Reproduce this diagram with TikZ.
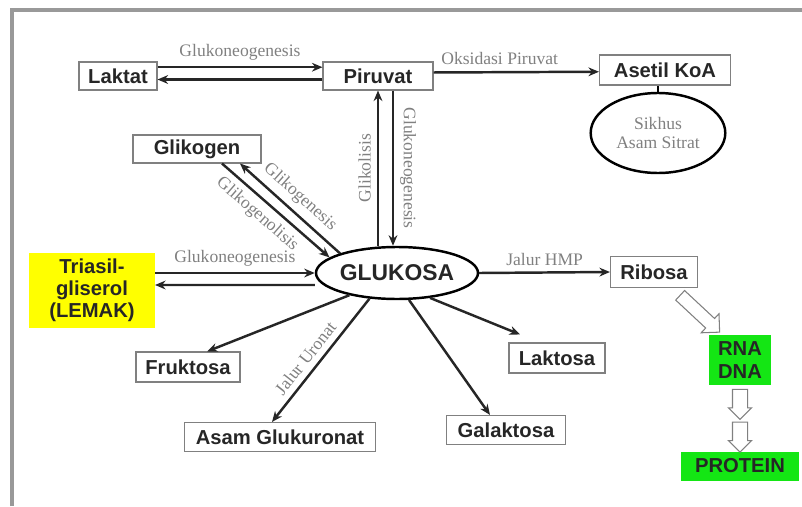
\documentclass[tikz,border=0pt]{standalone}
\usepackage{fontspec}
\setmainfont{Liberation Serif}
\setsansfont{Liberation Sans}
\usepackage{xcolor}
\usepackage{tikz}
\usetikzlibrary{arrows.meta,calc,shapes.geometric,shapes.arrows}
\definecolor{lemak}{RGB}{255,255,0}
\definecolor{hijau}{RGB}{20,230,20}

\begin{document}
\begin{tikzpicture}[
  box/.style={draw=gray, line width=0.6pt, inner sep=0pt, text=black!85,
    font=\sffamily\bfseries\fontsize{11.5}{12.5}\selectfont, align=center},
  arr/.style={line width=1.4pt, black!85, -{Stealth[length=6pt,width=5pt]}},
  lbl/.style={text=gray, font=\fontsize{10}{11}\selectfont},
  hollow/.style={single arrow, draw=gray, fill=white, line width=0.6pt, inner xsep=0pt}
]
\useasboundingbox (0,0) rectangle (16.04,10.12);

% Frame
\draw[gray!80, line width=1.8pt] (0.24,0) -- (0.24,9.92) -- (16.04,9.92);

% Boxes
\node[box, minimum width=1.56cm, minimum height=0.56cm] (laktat) at (2.36,8.6) {Laktat};
\node[box, minimum width=2.2cm, minimum height=0.56cm] (piruvat) at (7.56,8.6) {Piruvat};
\node[box, minimum width=2.62cm, minimum height=0.6cm] (asetil) at (13.3,8.72) {Asetil KoA};
\node[ellipse, draw, line width=1.4pt, minimum width=2.26cm, minimum height=1.6cm,
  text=gray, font=\fontsize{10}{10.5}\selectfont, align=center] (sikhus) at (13.16,7.46) {Sikhus\\Asam Sitrat};
\node[box, minimum width=2.56cm, minimum height=0.56cm] (glikogen) at (3.94,7.14) {Glikogen};
\node[box, draw=none, fill=lemak, minimum width=2.5cm, minimum height=1.5cm] (triasil) at (1.84,4.32) {Triasil-\\gliserol\\(LEMAK)};
\node[ellipse, draw, line width=1.4pt, minimum width=3.24cm, minimum height=1.04cm, inner sep=0pt,
  text=black!85, font=\sffamily\bfseries\fontsize{13}{14}\selectfont] (glukosa) at (7.94,4.66) {GLUKOSA};
\node[box, minimum width=1.74cm, minimum height=0.62cm] (ribosa) at (13.08,4.68) {Ribosa};
\node[box, draw=none, fill=hijau, minimum width=1.24cm, minimum height=1.0cm,
  font=\sffamily\bfseries\fontsize{11.5}{13.5}\selectfont] (rna) at (14.8,2.92) {RNA\\DNA};
\node[box, draw=none, fill=hijau, minimum width=2.36cm, minimum height=0.58cm] (protein) at (14.8,0.8) {PROTEIN};
\node[box, minimum width=2.08cm, minimum height=0.6cm] (fruktosa) at (3.76,2.78) {Fruktosa};
\node[box, minimum width=3.82cm, minimum height=0.58cm] (asam) at (5.6,1.38) {Asam Glukuronat};
\node[box, minimum width=1.92cm, minimum height=0.6cm] (laktosa) at (11.14,2.96) {Laktosa};
\node[box, minimum width=2.38cm, minimum height=0.58cm] (galaktosa) at (10.12,1.52) {Galaktosa};

% Laktat - Piruvat - Asetil KoA
\draw[arr] ([yshift=5pt]laktat.east) -- ([yshift=5pt]piruvat.west) node[lbl, midway, above] {Glukoneogenesis};
\draw[arr] ([yshift=-2pt]piruvat.west) -- ([yshift=-2pt]laktat.east);
\draw[arr] ([yshift=2pt]piruvat.east) -- ([yshift=-1pt]asetil.west) node[lbl, pos=0.4, above] {Oksidasi Piruvat};
\draw[line width=1.4pt] (sikhus.north) -- (sikhus.north |- asetil.south);

% Piruvat - Glukosa
\draw[arr] (piruvat.south |- glukosa.north) -- (piruvat.south) node[lbl, midway, rotate=90, anchor=south] {Glikolisis};
\draw[arr] ([xshift=0.3cm]piruvat.south) -- ([xshift=0.3cm]piruvat.south |- glukosa.north)
  node[lbl, midway, rotate=-90, anchor=south] {Glukoneogenesis};

% Glikogen - Glukosa
\draw[arr] ([xshift=0.5cm]glikogen.south) -- (glukosa.167) node[lbl, pos=0.42, sloped, below] {Glikogenolisis};
\draw[arr] (glukosa.161) -- ([xshift=0.86cm]glikogen.south) node[lbl, midway, sloped, above] {Glikogenesis};

% Triasilgliserol - Glukosa
\draw[arr] ([yshift=0.34cm]triasil.east) -- (glukosa.west) node[lbl, midway, above] {Glukoneogenesis};
\draw[arr] ([yshift=-0.24cm]glukosa.west) -- ([yshift=0.1cm]triasil.east);

% Glukosa - products
\draw[arr] (glukosa.east) -- (ribosa.west) node[lbl, midway, above] {Jalur HMP};
\foreach \a/\n/\dx/\dy in {205/fruktosa/0.38/0, 323/laktosa/-0.74/0.16, 294/galaktosa/-0.32/0}
  \draw[arr] (glukosa.\a) -- ([shift={(\dx,\dy)}]\n.north);
\draw[arr] (glukosa.223) -- ([xshift=-0.16cm]asam.north) node[lbl, pos=0.55, sloped, above] {Jalur Uronat};

% Ribosa - RNA/DNA - Protein
\node[hollow, inner ysep=0.12cm, minimum height=1.08cm, single arrow head extend=0.13cm, rotate=-43] (p1) at (13.95,3.89) {};
\node[hollow, inner ysep=0.14cm, minimum height=0.6cm, single arrow head extend=0.08cm, rotate=-90] (p2) at ($(rna.south)!0.23!(protein.north)$) {};
\node[hollow, inner ysep=0.14cm, minimum height=0.6cm, single arrow head extend=0.08cm, rotate=-90] (p3) at ($(rna.south)!0.73!(protein.north)$) {};
\end{tikzpicture}
\end{document}
